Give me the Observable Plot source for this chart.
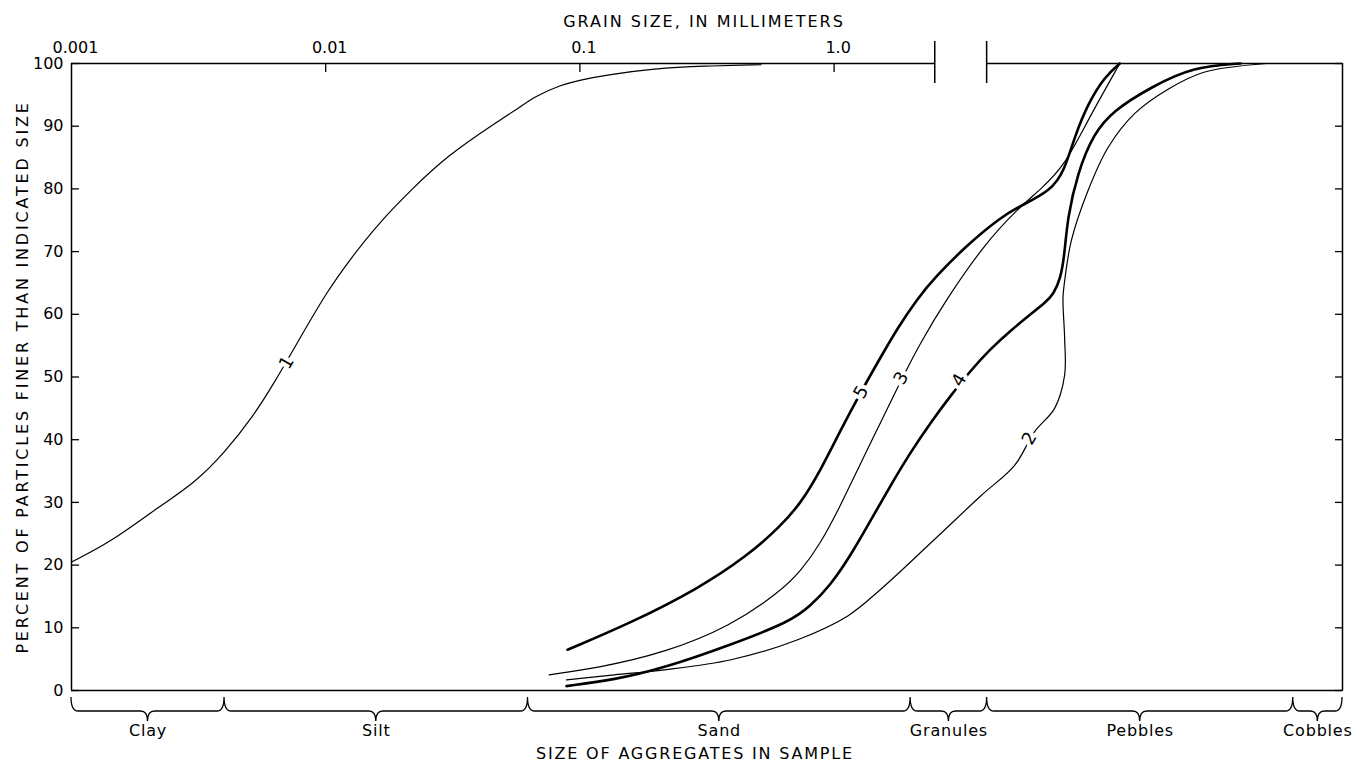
<!DOCTYPE html>
<html><head><meta charset="utf-8">
<script src="https://cdn.jsdelivr.net/npm/d3@7"></script>
<script src="https://cdn.jsdelivr.net/npm/@observablehq/plot@0.6"></script>
<style>body{margin:0;background:#fff}</style>
</head><body><div id="chart"></div>
<script>
// ---- data (grain size in mm, percent finer) ----
const curveNames = ["1", "2", "3", "4", "5"];

const size1 = [0.001, 0.00142, 0.00224, 0.00303, 0.00398, 0.00522, 0.00626, 0.00797, 0.01015, 0.01254, 0.01598, 0.0216, 0.0301, 0.046, 0.0585, 0.0661, 0.0841, 0.1009, 0.1285, 0.196, 0.308, 0.516];
const pct1  = [20.5, 23.6, 29.5, 33.0, 37.8, 43.9, 49.0, 56.4, 63.7, 68.9, 74.3, 79.8, 85.3, 90.4, 93.1, 94.7, 96.6, 97.4, 98.2, 99.2, 99.6, 99.8];

const size2 = [0.0886, 0.1365, 0.215, 0.393, 0.719, 1.132, 1.531, 2.41, 3.79, 5.13, 6.15, 7.37, 8.07, 8.07, 7.95, 8.07, 8.57, 9.97, 11.96, 15.2, 20.6, 28.5, 50];
const pct2  = [1.7, 2.5, 3.3, 4.9, 8.1, 11.9, 16.2, 23.6, 31.1, 35.9, 41.3, 45.0, 50.3, 56.2, 62.6, 65.3, 71.7, 79.7, 86.6, 92.0, 95.9, 98.6, 100];

const size3 = [0.0757, 0.1174, 0.215, 0.393, 0.615, 0.738, 0.884, 1.06, 1.27, 1.522, 1.825, 2.188, 2.743, 3.91, 5.2, 6.53, 8.07, 9.97, 13.3];
const pct3  = [2.5, 3.6, 6.0, 10.3, 15.8, 19.0, 23.4, 29.5, 36.2, 42.7, 49.3, 55.5, 62.2, 71.2, 76.6, 80.0, 83.7, 91.0, 100];

const size4 = [0.0886, 0.1365, 0.215, 0.393, 0.674, 0.808, 0.968, 1.16, 1.391, 1.667, 1.998, 2.394, 2.87, 3.44, 4.124, 4.942, 5.924, 6.786, 7.296, 7.773, 8.06, 8.28, 9.07, 10.48, 12.56, 17.57, 26, 39.7];
const pct4  = [0.7, 1.7, 3.6, 7.3, 11.0, 13.5, 16.8, 21.5, 27.1, 32.7, 38.0, 42.7, 47.0, 51.0, 54.5, 57.4, 60.0, 61.9, 63.2, 65.7, 69.4, 75.4, 82.5, 88.8, 92.5, 96.2, 99.5, 100];

const size5 = [0.0894, 0.159, 0.291, 0.457, 0.615, 0.738, 0.884, 1.06, 1.27, 1.522, 1.776, 2.136, 2.48, 3.36, 4.54, 5.29, 7.15, 8.07, 8.83, 9.97, 11.6, 13.3];
const pct5  = [6.5, 10.8, 16.2, 21.5, 26.2, 29.8, 35.1, 41.5, 47.5, 53.1, 57.8, 62.6, 65.8, 71.2, 75.5, 77.1, 79.7, 83.0, 88.3, 93.6, 97.9, 100];

// curve label positions
const labelSize = [0.00702, 5.86, 1.835, 3.1, 1.277];
const labelPct  = [52.3, 40.2, 49.8, 49.5, 47.6];

// size classes
const classNames  = ["Clay", "Silt", "Sand", "Granules", "Pebbles", "Cobbles"];
const classBounds = [0.001, 0.004, 0.0625, 2, 4, 64, 100];

// axes
const topTickValues = [0.001, 0.01, 0.1, 1];
const topTickLabels = ["0.001", "0.01", "0.1", "1.0"];
const yTickValues = [0, 10, 20, 30, 40, 50, 60, 70, 80, 90, 100];
const breakSizes = [2.5, 4];

const topTitle = "GRAIN SIZE, IN MILLIMETERS";
const yTitle = "PERCENT OF PARTICLES FINER THAN INDICATED SIZE";
const bottomTitle = "SIZE OF AGGREGATES IN SAMPLE";

// ---- build tables ----
const sizes = [size1, size2, size3, size4, size5];
const pcts = [pct1, pct2, pct3, pct4, pct5];
const rows = curveNames.flatMap((c, i) => sizes[i].map((s, j) => ({curve: c, size: s, pct: pcts[i][j]})));
const labels = curveNames.map((c, i) => ({curve: c, size: labelSize[i], pct: labelPct[i]}));
const classes = classNames.map((n, i) => ({name: n, lo: classBounds[i], hi: classBounds[i + 1]}));
const topSegments = [
  {a: classBounds[0], b: breakSizes[0]},
  {a: breakSizes[1], b: classBounds[classBounds.length - 1]}
];
const thickCurves = ["4", "5"];
const loopCurves = ["2"]; // curve that turns back slightly in x

// decorations: size-class braces and the axis-break bars
function decorations(index, scales, values, dims) {
  const x = scales.x, y = scales.y;
  const y0 = y(0);
  const g = d3.create("svg:g").attr("fill", "none").attr("stroke", "black").attr("stroke-width", 1.3);
  const p = d3.path();
  const top = y0 + 7, h = y0 + 21, tip = y0 + 31, r = 7;
  classes.forEach(c => {
    const xa = x(c.lo), xb = x(c.hi), xm = (xa + xb) / 2;
    p.moveTo(xa, top);
    p.quadraticCurveTo(xa, h, xa + r, h);
    p.lineTo(xm - r, h);
    p.quadraticCurveTo(xm, h, xm, tip);
    p.moveTo(xm, tip);
    p.quadraticCurveTo(xm, h, xm + r, h);
    p.lineTo(xb - r, h);
    p.quadraticCurveTo(xb, h, xb, top);
  });
  g.append("path").attr("d", p.toString());
  const yt = y(100);
  breakSizes.forEach(b => {
    g.append("line").attr("x1", x(b)).attr("x2", x(b)).attr("y1", yt - 22).attr("y2", yt + 20).attr("stroke-width", 1.5);
  });
  return g.node();
}

const curveMarks = curveNames.map(c => Plot.line(rows, {
  filter: d => d.curve === c,
  x: "size", y: "pct", stroke: "black",
  strokeWidth: thickCurves.includes(c) ? 2.6 : 1.2,
  curve: loopCurves.includes(c) ? "catmull-rom" : "basis"
}));

const chart = Plot.plot({
  width: 1358,
  height: 763,
  marginLeft: 71,
  marginRight: 16,
  marginTop: 63,
  marginBottom: 73,
  style: {fontFamily: "DejaVu Sans", fontSize: "16px", color: "black", background: "white"},
  x: {type: "log", domain: [0.001, 100]},
  y: {domain: [0, 100]},
  marks: [
    // frame
    Plot.ruleX([classBounds[0], classBounds[classBounds.length - 1]], {stroke: "black", strokeWidth: 1.5}),
    Plot.ruleY([0], {stroke: "black", strokeWidth: 1.5}),
    Plot.ruleY(topSegments, {x1: "a", x2: "b", y: d => 100, stroke: "black", strokeWidth: 1.5}),
    decorations,
    // axes
    Plot.axisX({anchor: "top", ticks: topTickValues, tickSize: 0, tickPadding: 11, dx: 4, label: null,
      tickFormat: d => topTickLabels[topTickValues.indexOf(d)], fontSize: 16}),
    Plot.axisX({anchor: "top", ticks: topTickValues.slice(1), tickSize: 8, dy: 8, tickFormat: () => "", label: null, strokeWidth: 1.3}),
    Plot.axisY({anchor: "left", ticks: yTickValues, tickSize: 0, tickPadding: 8, label: null, fontSize: 16}),
    Plot.axisY({anchor: "left", ticks: yTickValues, tickSize: 8, dx: 8, tickFormat: () => "", label: null, strokeWidth: 1.3}),
    Plot.axisY({anchor: "right", ticks: yTickValues, tickSize: 8, dx: -8, tickFormat: () => "", label: null, strokeWidth: 1.3}),
    // curves
    ...curveMarks,
    Plot.text(labels, {x: "size", y: "pct", text: "curve", rotate: -60, fontSize: 18, fill: "black", stroke: "white", strokeWidth: 8}),
    // titles and class names
    Plot.text([topTitle], {frameAnchor: "top", dy: -48, dx: -3, fontSize: 16}),
    Plot.text([yTitle], {frameAnchor: "left", textAnchor: "middle", dx: -49, rotate: -90, fontSize: 16}),
    Plot.text([bottomTitle], {frameAnchor: "bottom", dy: 68, dx: -12, fontSize: 16}),
    Plot.text(classes, {x: d => Math.sqrt(d.lo * d.hi), frameAnchor: "bottom", dy: 45, text: "name", fontSize: 16})
  ]
});

// letter spacing for the titles and class names
const spacing = new Map([[topTitle, 2], [yTitle, 2.8], [bottomTitle, 1.8]]);
d3.select(chart).selectAll("text").each(function() {
  const t = this.textContent;
  if (spacing.has(t)) d3.select(this).attr("letter-spacing", spacing.get(t));
  else if (classNames.includes(t)) d3.select(this).attr("letter-spacing", 0.8);
});
document.getElementById("chart").appendChild(chart);
</script>
</body></html>
